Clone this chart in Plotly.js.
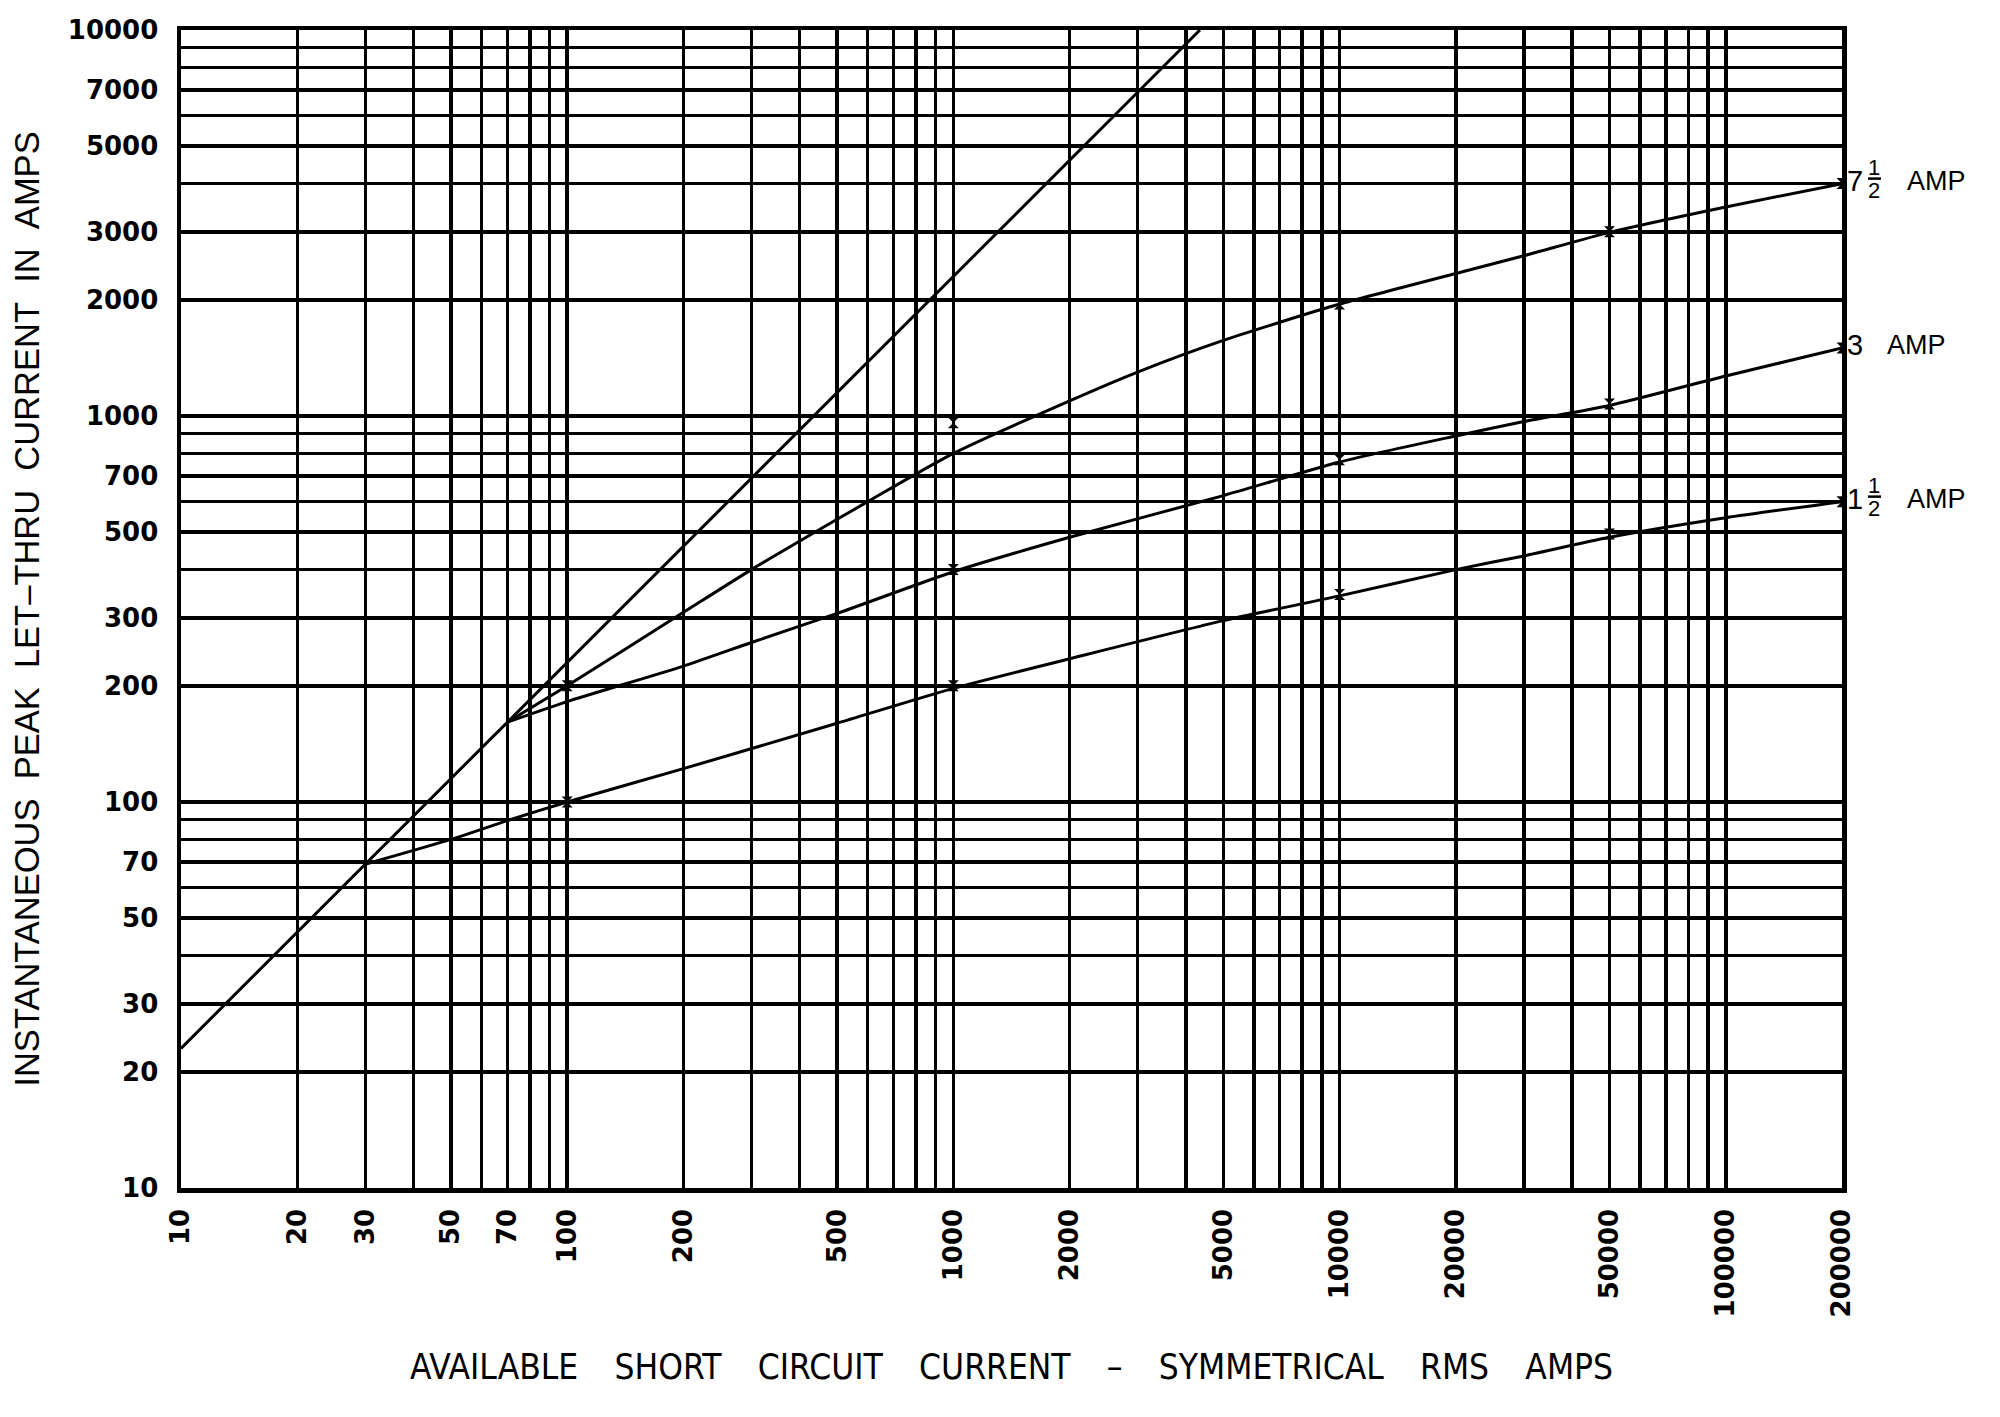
<!DOCTYPE html>
<html>
<head>
<meta charset="utf-8">
<script src="https://cdn.plot.ly/plotly-3.0.1.min.js"></script>
<style>
  html, body { margin: 0; padding: 0; background: #fff; }
  #chart { width: 2000px; height: 1417px; }
</style>
</head>
<body>
<div id="chart"></div>
<script>
// ---------- data ----------
const xTickVals = [10, 20, 30, 50, 70, 100, 200, 500, 1000, 2000, 5000, 10000, 20000, 50000, 100000, 200000];
const xTickText = ["10", "20", "30", "50", "70", "100", "200", "500", "1000", "2000", "5000", "10000", "20000", "50000", "100000", "200000"];
const yTickVals = [10, 20, 30, 50, 70, 100, 200, 300, 500, 700, 1000, 2000, 3000, 5000, 7000, 10000];
const yTickText = ["10", "20", "30", "50", "70", "100", "200", "300", "500", "700", "1000", "2000", "3000", "5000", "7000", "10000"];

const xGridVals = [20, 30, 40, 50, 60, 70, 80, 90,
  200, 300, 400, 500, 600, 700, 800, 900,
  2000, 3000, 4000, 5000, 6000, 7000, 8000, 9000,
  20000, 30000, 40000, 50000, 60000, 70000, 80000, 90000];
const yGridVals = [20, 30, 40, 50, 60, 70, 80, 90,
  200, 300, 400, 500, 600, 700, 800, 900,
  2000, 3000, 4000, 5000, 6000, 7000, 8000, 9000];

// threshold (maximum peak) line
const diagX = [10, 4350];
const diagY = [23, 10000];

// 7 1/2 AMP
const amp75X = [70, 100, 200, 300, 500, 600, 1000, 2000, 3000, 5000, 10000, 20000, 30000, 50000, 100000, 200000];
const amp75Y = [161, 200, 310, 400, 540, 600, 800, 1095, 1300, 1570, 1950, 2340, 2600, 2990, 3480, 4000];
const amp75MarkX = [1000, 10000, 50000, 200000];
const amp75MarkY = [960, 1950, 3000, 4000];

// 3 AMP
const amp3X = [70, 100, 200, 300, 500, 1000, 2000, 5000, 10000, 20000, 30000, 50000, 100000, 200000];
const amp3Y = [161, 182, 225, 259, 308, 395, 485, 622, 760, 888, 968, 1065, 1270, 1500];
const amp3MarkX = [100, 1000, 10000, 50000, 200000];
const amp3MarkY = [200, 400, 770, 1075, 1500];

// 1 1/2 AMP
const amp15X = [30, 50, 70, 100, 200, 500, 1000, 2000, 5000, 10000, 20000, 30000, 50000, 100000, 200000];
const amp15Y = [69, 80, 89.5, 100, 122, 160, 197, 235, 295, 342, 400, 434, 485, 545, 600];
const amp15MarkX = [100, 1000, 10000, 50000, 200000];
const amp15MarkY = [100, 200, 345, 495, 600];

const curveWhole = ["7", "3", "1"];
const curveHasHalf = [true, false, true];
const curveUnit = "AMP";

const G = "\u00a0\u00a0\u00a0\u2009";
const xTitle = ["AVAILABLE", "SHORT", "CIRCUIT", "CURRENT", "–", "SYMMETRICAL", "RMS", "AMPS"].join(G);
const yTitle = ["INSTANTANEOUS", "PEAK", "LET–THRU", "CURRENT", "IN", "AMPS"].join("\u00a0\u00a0");

// ---------- traces ----------
const lineStyle = { color: "#000", width: 3 };
const curveStyle = { color: "#000", width: 3, shape: "spline", smoothing: 0.6 };
const markStyle = { symbol: "hourglass", size: 11, color: "#000", line: { width: 0 } };

const traces = [
  { x: diagX, y: diagY, mode: "lines", line: lineStyle, hoverinfo: "skip" },
  { x: amp75X, y: amp75Y, mode: "lines", line: curveStyle, hoverinfo: "skip" },
  { x: amp3X, y: amp3Y, mode: "lines", line: curveStyle, hoverinfo: "skip" },
  { x: amp15X, y: amp15Y, mode: "lines", line: curveStyle, hoverinfo: "skip" },
  { x: amp75MarkX, y: amp75MarkY, mode: "markers", marker: markStyle, cliponaxis: false },
  { x: amp3MarkX, y: amp3MarkY, mode: "markers", marker: markStyle, cliponaxis: false },
  { x: amp15MarkX, y: amp15MarkY, mode: "markers", marker: markStyle, cliponaxis: false }
];

// ---------- curve labels ----------
const labelFont = { family: "Liberation Sans, Arial, sans-serif", color: "#000" };
const yRange = [1, 4];
const ends = [
  [amp75X[amp75X.length - 1], amp75Y[amp75Y.length - 1]],
  [amp3X[amp3X.length - 1], amp3Y[amp3Y.length - 1]],
  [amp15X[amp15X.length - 1], amp15Y[amp15Y.length - 1]]
];
const annotations = [];
const shapes = [];
ends.forEach((e, i) => {
  const ax = Math.log10(e[0]);
  const ay = Math.log10(e[1]);
  const base = { x: ax, y: ay, xref: "x", yref: "y", showarrow: false, yanchor: "middle" };
  annotations.push(Object.assign({}, base, {
    text: curveWhole[i], xanchor: "left", xshift: 3, yshift: 3,
    font: Object.assign({ size: 29 }, labelFont)
  }));
  if (curveHasHalf[i]) {
    annotations.push(Object.assign({}, base, {
      text: "1", xanchor: "center", xshift: 32, yshift: 16,
      font: Object.assign({ size: 22 }, labelFont)
    }));
    annotations.push(Object.assign({}, base, {
      text: "2", xanchor: "center", xshift: 32, yshift: -7,
      font: Object.assign({ size: 22 }, labelFont)
    }));
    shapes.push({
      type: "line", xref: "paper", yref: "paper", xsizemode: "pixel", ysizemode: "pixel",
      xanchor: 1, yanchor: (ay - yRange[0]) / (yRange[1] - yRange[0]),
      x0: 26, x1: 39, y0: 5, y1: 5,
      line: { color: "#000", width: 2.5 }
    });
  }
  annotations.push(Object.assign({}, base, {
    text: curveUnit, xanchor: "left", xshift: curveHasHalf[i] ? 63 : 43, yshift: 3,
    font: Object.assign({ size: 27 }, labelFont)
  }));
});

// ---------- layout ----------
const tickFont = { family: "DejaVu Sans, sans-serif", size: 26, color: "#000", weight: "bold" };

const layout = {
  width: 2000,
  height: 1417,
  margin: { l: 181, r: 158, t: 30, b: 229, pad: 0 },
  paper_bgcolor: "#fff",
  plot_bgcolor: "#fff",
  showlegend: false,
  xaxis: {
    type: "log",
    range: [1, Math.log10(200000)],
    tickmode: "array",
    tickvals: xTickVals,
    ticktext: xTickText,
    tickangle: -90,
    ticks: "",
    ticklabelstandoff: 6,
    tickfont: tickFont,
    showgrid: true, gridcolor: "#000", gridwidth: 3.5,
    zeroline: false,
    showline: true, linecolor: "#000", linewidth: 4.5, mirror: true,
    minor: { tickmode: "array", tickvals: xGridVals, showgrid: true, gridcolor: "#000", gridwidth: 3.5, ticks: "" },
    title: { text: xTitle, standoff: 39, font: { family: "Liberation Sans Narrow, DejaVu Sans Condensed, sans-serif", size: 35, color: "#000" } }
  },
  yaxis: {
    type: "log",
    range: yRange,
    tickmode: "array",
    tickvals: yTickVals,
    ticktext: yTickText,
    ticks: "",
    ticklabelstandoff: 13,
    tickfont: tickFont,
    showgrid: true, gridcolor: "#000", gridwidth: 3.5,
    zeroline: false,
    showline: true, linecolor: "#000", linewidth: 4.5, mirror: true,
    minor: { tickmode: "array", tickvals: yGridVals, showgrid: true, gridcolor: "#000", gridwidth: 3.5, ticks: "" },
    title: { text: yTitle, standoff: 19, font: { family: "Liberation Sans, Arial, sans-serif", size: 34.5, color: "#000" } }
  },
  annotations: annotations,
  shapes: shapes
};

Plotly.newPlot("chart", traces, layout, { staticPlot: true, displayModeBar: false });
</script>
</body>
</html>
